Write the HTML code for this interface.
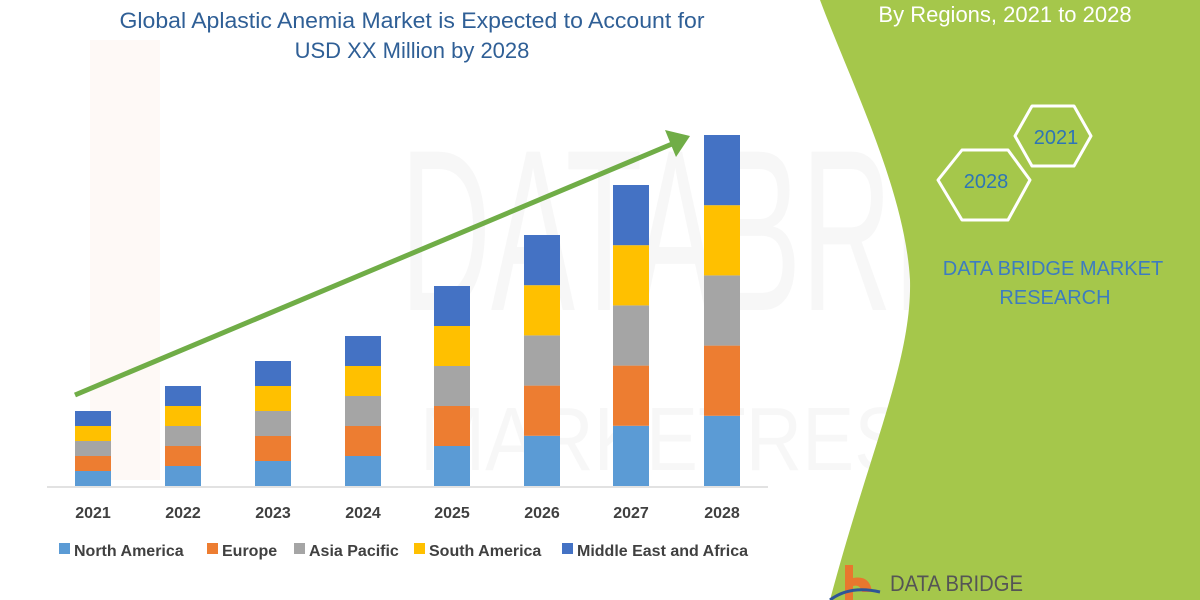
<!DOCTYPE html>
<html><head><meta charset="utf-8"><style>
html,body{margin:0;padding:0;}
body{width:1200px;height:600px;position:relative;overflow:hidden;background:#fff;font-family:"Liberation Sans",sans-serif;}
</style></head><body>
<svg width="1200" height="600" viewBox="0 0 1200 600" style="position:absolute;left:0;top:0">
<g opacity="0.045">
<rect x="90" y="40" width="70" height="440" fill="#e07030"/>
<text x="400" y="310" font-size="230" fill="#555" font-family="Liberation Sans" textLength="800" lengthAdjust="spacingAndGlyphs">DATABRIDGE</text>
<text x="420" y="470" font-size="90" fill="#555" font-family="Liberation Sans" textLength="760" lengthAdjust="spacingAndGlyphs">MARKETRESEARCH</text>
</g>
<path d="M820,0 C850,80 905,190 910,280 C912,360 870,450 830,600 L1200,600 L1200,0 Z" fill="#a5c74b"/>
<text x="1005" y="22" font-size="22" fill="#fff" text-anchor="middle">By Regions, 2021 to 2028</text>
<polygon points="1032,106 1074,106 1091,136 1074,166 1032,166 1015,136" fill="none" stroke="#fff" stroke-width="3" stroke-linejoin="round"/>
<polygon points="962,150 1008,150 1030,180 1008,220 962,220 938,180" fill="none" stroke="#fff" stroke-width="3" stroke-linejoin="round"/>
<text x="1056" y="144" font-size="20" fill="#2e75b6" text-anchor="middle">2021</text>
<text x="986" y="188" font-size="20" fill="#2e75b6" text-anchor="middle">2028</text>
<text x="1053" y="275" font-size="20" fill="#3d7cc0" text-anchor="middle">DATA BRIDGE MARKET</text>
<text x="1055" y="304" font-size="20" fill="#3d7cc0" text-anchor="middle">RESEARCH</text>
<path d="M845,565 L853,565 L853,578 Q870,575 872,592 L862,592 Q860,584 853,586 L853,600 L845,600 Z" fill="#e8772e"/>
<path d="M830,600 Q850,585 880,592" fill="none" stroke="#2e5597" stroke-width="3"/>
<text x="890" y="591" font-size="22" fill="#555" textLength="133" lengthAdjust="spacingAndGlyphs">DATA BRIDGE</text>
<text x="412" y="28" font-size="22" fill="#2f5f96" text-anchor="middle" textLength="585" lengthAdjust="spacingAndGlyphs">Global Aplastic Anemia Market is Expected to Account for</text>
<text x="412" y="58" font-size="22" fill="#2f5f96" text-anchor="middle">USD XX Million by 2028</text>
<line x1="47" y1="487" x2="768" y2="487" stroke="#d9d9d9" stroke-width="1.5"/>
<g id="bars"></g>
<line x1="75" y1="395" x2="672" y2="144" stroke="#70ad47" stroke-width="5"/>
<polygon points="690,136 665,130 676,157" fill="#70ad47"/>
<g font-size="16" font-weight="bold" fill="#404040">
<rect x="59" y="543" width="11" height="11" fill="#5b9bd5"/><text x="74" y="556">North America</text>
<rect x="207" y="543" width="11" height="11" fill="#ed7d31"/><text x="222" y="556">Europe</text>
<rect x="294" y="543" width="11" height="11" fill="#a5a5a5"/><text x="309" y="556">Asia Pacific</text>
<rect x="414" y="543" width="11" height="11" fill="#ffc000"/><text x="429" y="556">South America</text>
<rect x="562" y="543" width="11" height="11" fill="#4472c4"/><text x="577" y="556">Middle East and Africa</text>
</g>
</svg>
<script>
var xs=[75,165,255,345,434,524,613,704],tops=[411,386,361,336,286,235,185,135],cols=["#5b9bd5","#ed7d31","#a5a5a5","#ffc000","#4472c4"];
var g=document.getElementById("bars"),s="";
for(var i=0;i<8;i++){var h=(486-tops[i])/5;for(var j=0;j<5;j++){s+='<rect x="'+xs[i]+'" y="'+(486-h*(j+1))+'" width="36" height="'+h+'" fill="'+cols[j]+'"/>';}
s+='<text x="'+(xs[i]+18)+'" y="518" font-size="16" font-weight="bold" fill="#404040" text-anchor="middle">'+(2021+i)+'</text>';}
g.innerHTML=s;
</script>
</body></html>
